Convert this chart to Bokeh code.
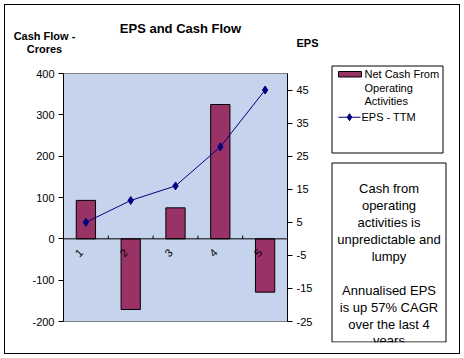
import math
from bokeh.plotting import figure
from bokeh.models import Range1d, LinearAxis, FixedTicker, Span, Label, BoxAnnotation
from bokeh.layouts import column, row
from bokeh.core.properties import value
from bokeh.embed import file_html
from bokeh.resources import INLINE

# ---- data ----
periods = [1, 2, 3, 4, 5]
period_labels = ["1", "2", "3", "4", "5"]
net_cash = [93, -171, 75, 325, -129]          # Cash Flow - Crores
eps_ttm = [5.0, 11.6, 16.0, 27.8, 45.0]        # EPS - TTM
cash_ticks = [-200, -100, 0, 100, 200, 300, 400]
eps_ticks = [-25, -15, -5, 5, 15, 25, 35, 45]
legend_lines = ["Net Cash From", "Operating", "Activities"]
legend_eps = "EPS - TTM"
note_lines = ["Cash from", "operating", "activities is", "unpredictable and", "lumpy", "",
              "Annualised EPS", "is up 57% CAGR", "over the last 4", "years"]

FONT = "Liberation Sans"
BAR = "#993366"
NAVY = "#000080"
TOP_H = 62
MAIN_R = 320


def no_align(f):
    if "frame_align" in type(f).properties():
        f.frame_align = False


def deco_fig(x0, x1, y0, y1):
    """figure whose frame is the whole canvas; data units = page pixels (y down)."""
    f = figure(width=x1 - x0, height=y1 - y0, output_backend="svg", toolbar_location=None,
               x_range=Range1d(x0, x1), y_range=Range1d(y1, y0),
               x_axis_location=None, y_axis_location=None, min_border=0)
    f.grid.visible = False
    f.outline_line_color = None
    f.background_fill_alpha = 0
    f.border_fill_alpha = 0
    no_align(f)
    return f


def lab(f, txt, x, y, size="11px", bold=False, align="center"):
    f.add_layout(Label(x=x, y=y, text=txt, text_font=FONT, text_font_size=size,
                       text_font_style="bold" if bold else "normal",
                       text_align=align, text_baseline="middle", text_color="black"))


def box(f, l, t, r, b, fill=None, line="black"):
    f.add_layout(BoxAnnotation(left=l, right=r, top=t, bottom=b,
                               fill_color=fill or "white", fill_alpha=1 if fill else 0,
                               line_color=line or "black", line_width=1,
                               line_alpha=1 if line else 0))


# ---- top strip: titles ----
top = deco_fig(0, 464, 0, TOP_H)
lab(top, "EPS and Cash Flow", 180, 27.5, "13px", True)
lab(top, "Cash Flow -", 44, 35, "11px", True)
lab(top, "Crores", 44, 48, "11px", True)
lab(top, "EPS", 307, 42.5, "11px", True)

# ---- main chart ----
MW, MH = MAIN_R, 358 - TOP_H
FL, FT, FW, FH = 63, 73 - TOP_H, 224, 248
p = figure(width=MW, height=MH, output_backend="svg", toolbar_location=None,
           x_range=Range1d(0.5, 5.5), y_range=Range1d(-200, 400),
           x_axis_location=None, y_axis_location="left",
           min_border_left=FL, min_border_top=FT,
           min_border_right=MW - FL - FW, min_border_bottom=MH - FT - FH)
p.frame_width = FW
p.frame_height = FH
p.background_fill_color = "#C5D3EC"
p.border_fill_alpha = 0
p.outline_line_color = "#808080"
p.grid.visible = False
no_align(p)
p.extra_y_ranges = {"eps": Range1d(-25, 50)}

yl = p.yaxis[0]
yl.ticker = FixedTicker(ticks=cash_ticks)
yl.major_label_overrides = {t: str(t) for t in cash_ticks}
yr = LinearAxis(y_range_name="eps", ticker=FixedTicker(ticks=eps_ticks))
yr.major_label_overrides = {t: str(t) for t in eps_ticks}
p.add_layout(yr, "right")
for ax in [yl, yr]:
    ax.axis_line_color = "black"
    ax.major_tick_line_color = "black"
    ax.major_tick_out = 5
    ax.major_tick_in = 0
    ax.minor_tick_out = 0
    ax.minor_tick_in = 0
    ax.major_label_text_font = FONT
    ax.major_label_text_font_size = "11px"
    ax.major_label_text_color = "black"
    ax.major_label_standoff = 4

p.vbar(x=periods, top=net_cash, width=0.43, fill_color=BAR, line_color="black", line_width=1)
p.add_layout(Span(location=0, dimension="width", line_color="black", line_width=1))
bounds = [c + 0.5 for c in periods[:-1]]
p.segment(x0=bounds, x1=bounds, y0=[0] * len(bounds), y1=[8] * len(bounds),
          line_color="black", line_width=1)
p.text(x=periods, y=[0] * len(periods), text=period_labels, angle=math.pi / 4,
       x_offset=-7, y_offset=14, text_font=value(FONT), text_font_size="11px",
       text_align="center", text_baseline="middle", text_color="black")
p.line(periods, eps_ttm, y_range_name="eps", line_color=NAVY, line_width=1)
p.scatter(periods, eps_ttm, y_range_name="eps", marker="diamond", size=8,
          fill_color=NAVY, line_color=NAVY)

# ---- right strip: legend + note ----
rt = deco_fig(MAIN_R, 464, TOP_H, 358)
box(rt, 331.5, 65.5, 442.5, 152.5)
box(rt, 338, 71, 361, 76.5, fill=BAR, line="black")          # bar key
ly = 73.3
for t in legend_lines:
    lab(rt, t, 364, ly, "11px", align="left")
    ly += 13.7
box(rt, 338, 116.2, 360, 117.2, fill=NAVY, line=None)        # line key
rt.scatter(x=[349], y=[116.7], marker="diamond", size=7, fill_color=NAVY, line_color=NAVY)
lab(rt, legend_eps, 361, 116.7, "11px", align="left")

box(rt, 331.5, 162.5, 445.5, 341.5)
y = 188.3
for t in note_lines:
    if t:
        lab(rt, t, 388.5, y, "13px")
    y += 16.9
box(rt, 332, 342, 445, 352, fill="white", line=None)

layout = column(top, row(p, rt))
layout.styles = {"outline": "1px solid black", "outline-offset": "-5px",
                 "background-color": "white"}

open("out.html", "w").write(file_html(layout, INLINE))
